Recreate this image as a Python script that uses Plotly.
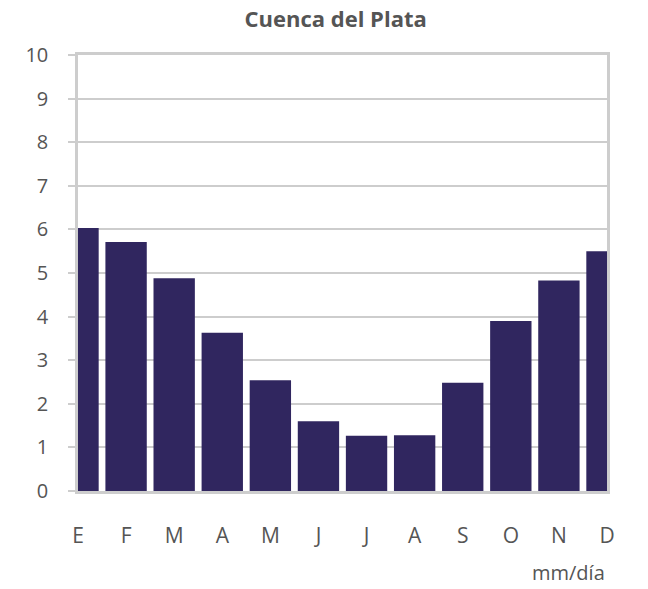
import plotly.graph_objects as go

# Monthly mean values for the Cuenca del Plata (mm/día)
months = ["E", "F", "M", "A", "M", "J", "J", "A", "S", "O", "N", "D"]
values = [6.03, 5.71, 4.88, 3.63, 2.54, 1.60, 1.27, 1.28, 2.48, 3.90, 4.83, 5.50]
y_ticks = list(range(0, 11))

bar_color = "#30265f"
grid_color = "#cdcdcd"
text_color = "#555555"
font_family = "Open Sans, Noto Sans, sans-serif"

positions = list(range(len(months)))

fig = go.Figure(
    go.Bar(
        x=positions,
        y=values,
        marker=dict(color=bar_color, line=dict(width=0)),
        hoverinfo="skip",
    )
)

fig.update_layout(
    width=648,
    height=589,
    margin=dict(l=78, r=41, t=55, b=98),
    paper_bgcolor="white",
    plot_bgcolor="white",
    bargap=0.14,
    showlegend=False,
    title=dict(
        text="<b>Cuenca del Plata</b>",
        x=0.518,
        xanchor="center",
        y=0.967,
        yanchor="middle",
        font=dict(family=font_family, size=22, color=text_color),
    ),
    font=dict(family=font_family, color=text_color),
)

fig.update_xaxes(
    range=[0, len(months) - 1],
    tickmode="array",
    tickvals=positions,
    ticktext=months,
    tickfont=dict(size=21, color=text_color),
    ticks="",
    ticklabelstandoff=24,
    showgrid=False,
    zeroline=False,
    showline=True,
    linecolor=grid_color,
    linewidth=2.5,
    mirror=True,
)

fig.update_yaxes(
    range=[0, 10],
    tickmode="array",
    tickvals=y_ticks,
    ticktext=[str(v) for v in y_ticks],
    tickfont=dict(size=20, color=text_color),
    ticks="outside",
    ticklen=7,
    tickcolor=grid_color,
    tickwidth=1.5,
    ticklabelstandoff=16,
    showgrid=True,
    gridcolor=grid_color,
    gridwidth=1.5,
    zeroline=False,
    showline=True,
    linecolor=grid_color,
    linewidth=2.5,
    mirror=True,
)

fig.add_annotation(
    text="mm/día",
    xref="paper",
    yref="paper",
    x=1.0,
    y=-0.188,
    xanchor="right",
    yanchor="middle",
    showarrow=False,
    font=dict(family=font_family, size=20, color=text_color),
)

fig.write_html("out.html")
